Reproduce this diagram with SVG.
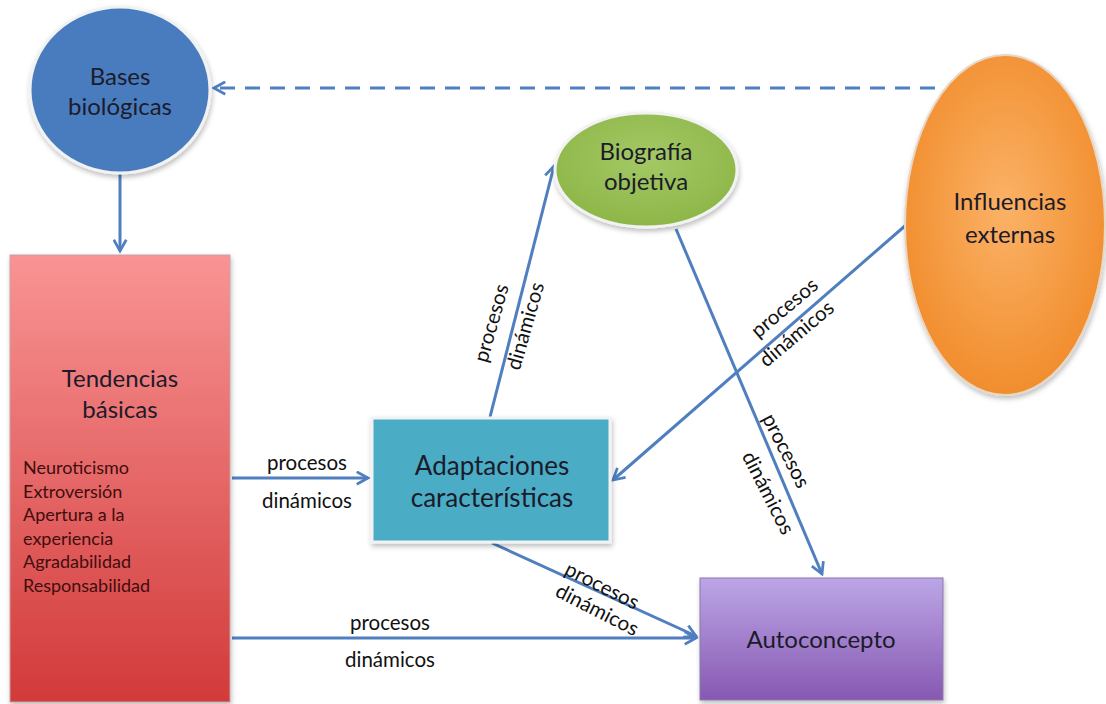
<svg xmlns="http://www.w3.org/2000/svg" width="1106" height="704" viewBox="0 0 1106 704">
<style>
.node{font-family:Lato,"Open Sans","Liberation Sans",sans-serif;font-size:24px;fill:#1b1b2a;text-anchor:middle}
.big{font-size:26px}
.lbl{font-family:Lato,"Open Sans","Liberation Sans",sans-serif;font-size:20.5px;fill:#111;text-anchor:middle}
.list{font-family:Lato,"Open Sans","Liberation Sans",sans-serif;font-size:18px;fill:#3f0e0e}
.edge{stroke:#4f7fbf;stroke-width:3;fill:none;marker-end:url(#ah)}
</style>
<defs>
<marker id="ah" viewBox="0 0 12 12" refX="10" refY="6" markerWidth="5" markerHeight="5" orient="auto" markerUnits="strokeWidth">
<path d="M1,1 L10,6 L1,11" fill="none" stroke="#4f7fbf" stroke-width="2.2"/>
</marker>
<linearGradient id="gRed" x1="0" y1="0" x2="0" y2="1"><stop offset="0" stop-color="#f99494"/><stop offset="1" stop-color="#d23a3a"/></linearGradient>
<linearGradient id="gPur" x1="0" y1="0" x2="0" y2="1"><stop offset="0" stop-color="#bca6e6"/><stop offset="1" stop-color="#8758b2"/></linearGradient>
<radialGradient id="gOr" cx="0.5" cy="0.45" r="0.6"><stop offset="0" stop-color="#fbb267"/><stop offset="1" stop-color="#f08a28"/></radialGradient>
<radialGradient id="gGr" cx="0.5" cy="0.4" r="0.6"><stop offset="0" stop-color="#a4c965"/><stop offset="1" stop-color="#8db648"/></radialGradient>
<filter id="sh" x="-10%" y="-10%" width="120%" height="120%"><feDropShadow dx="1" dy="3" stdDeviation="2.5" flood-color="#000" flood-opacity="0.25"/></filter>
</defs>
<rect width="1106" height="704" fill="#fff"/>

<g id="connectors">
<path class="edge" d="M935,88 L214,88" stroke-dasharray="15,10" stroke-width="3.5"/>
<path class="edge" d="M120,174 L120,251"/>
<path class="edge" d="M232,478 L368,478"/>
<path class="edge" d="M232,638 L696,638"/>
<path class="edge" d="M490,417 L554,166"/>
<path class="edge" d="M906,225 L613,480"/>
<path class="edge" d="M676,229 L822,574"/>
<path class="edge" d="M492,543 L696,636"/>
</g>

<g id="edge-labels">
<text class="lbl" x="307" y="470">procesos</text>
<text class="lbl" x="307" y="508">dinámicos</text>
<text class="lbl" x="390" y="630">procesos</text>
<text class="lbl" x="390" y="667">dinámicos</text>
<text class="lbl" transform="translate(498,325) rotate(-74)">procesos</text>
<text class="lbl" transform="translate(532,328) rotate(-74)">dinámicos</text>
<text class="lbl" transform="translate(789,313) rotate(-40)">procesos</text>
<text class="lbl" transform="translate(801,339) rotate(-40)">dinámicos</text>
<text class="lbl" transform="translate(780,454) rotate(63)">procesos</text>
<text class="lbl" transform="translate(762,496) rotate(63)">dinámicos</text>
<text class="lbl" transform="translate(599,592) rotate(27)">procesos</text>
<text class="lbl" transform="translate(594,616) rotate(27)">dinámicos</text>
</g>

<g id="bases">
<ellipse cx="120" cy="90" rx="90" ry="83" fill="#4a7cbf" stroke="#f2f2f2" stroke-width="3" filter="url(#sh)"/>
<text class="node" x="120" y="85">Bases</text>
<text class="node" x="120" y="115">biológicas</text>
</g>

<g id="biografia">
<ellipse cx="646" cy="170" rx="91" ry="57" fill="url(#gGr)" stroke="#f2f2f2" stroke-width="3" filter="url(#sh)"/>
<text class="node" x="646" y="160">Biografía</text>
<text class="node" x="646" y="190">objetiva</text>
</g>

<g id="influencias">
<ellipse cx="1005" cy="225" rx="100" ry="170" fill="url(#gOr)" stroke="#e8d6c4" stroke-width="2" filter="url(#sh)"/>
<text class="node" x="1010" y="210">Influencias</text>
<text class="node" x="1010" y="243">externas</text>
</g>

<g id="tendencias">
<rect x="10" y="255" width="220" height="447" fill="url(#gRed)" stroke="#c9a0a0" stroke-width="1" filter="url(#sh)"/>
<text class="node" x="120" y="387">Tendencias</text>
<text class="node" x="120" y="418">básicas</text>
<text class="list" x="23" y="474">Neuroticismo</text>
<text class="list" x="23" y="498">Extroversión</text>
<text class="list" x="23" y="521">Apertura a la</text>
<text class="list" x="23" y="545">experiencia</text>
<text class="list" x="23" y="568">Agradabilidad</text>
<text class="list" x="23" y="592">Responsabilidad</text>
</g>

<g id="adaptaciones">
<rect x="372" y="418" width="238" height="124" fill="#4bacc6" stroke="#f2f2f2" stroke-width="3" filter="url(#sh)"/>
<text class="node big" x="492" y="475">Adaptaciones</text>
<text class="node big" x="492" y="507">características</text>
</g>

<g id="autoconcepto">
<rect x="700" y="578" width="243" height="122" fill="url(#gPur)" stroke="#8a78aa" stroke-width="1" filter="url(#sh)"/>
<text class="node" x="821" y="648">Autoconcepto</text>
</g>
</svg>
